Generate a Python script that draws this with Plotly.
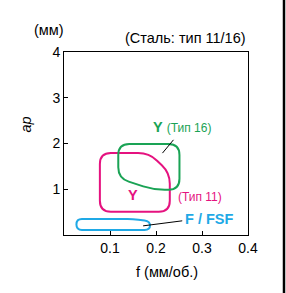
import plotly.graph_objects as go
import math

# ---- data (region outlines, f in mm/rev, ap in mm) ----
y16_f = [0.118, 0.251, 0.251, 0.195, 0.118]
y16_ap = [1.99, 1.99, 0.99, 0.99, 1.24]

y11_f = [0.078, 0.185, 0.230, 0.230, 0.078]
y11_ap = [1.79, 1.79, 1.36, 0.51, 0.51]

fsf_f = [0.027, 0.150, 0.187, 0.187, 0.027]
fsf_ap = [0.35, 0.35, 0.30, 0.11, 0.11]

x_ticks = [0.1, 0.2, 0.3, 0.4]
y_ticks = [1, 2, 3, 4]

GREEN = "#1aa355"
MAGENTA = "#e5127f"
BLUE = "#1fa9e6"
FONT = "Liberation Sans, Arial, sans-serif"

W, H = 286, 293
ML, MR, MT, MB = 64, 38, 52, 58
XR = (0, 0.4)
YR = (0, 4)
sx = (W - ML - MR) / (XR[1] - XR[0])
sy = (H - MT - MB) / (YR[1] - YR[0])


def rounded_path(xs, ys, r_px):
    n = len(xs)
    pts = list(zip(xs, ys))
    segs = []
    for i in range(n):
        p0 = pts[i - 1]
        p1 = pts[i]
        p2 = pts[(i + 1) % n]
        def toward(a, b):
            dx = (b[0] - a[0]) * sx
            dy = (b[1] - a[1]) * sy
            L = math.hypot(dx, dy)
            t = min(r_px / L, 0.5) if L > 0 else 0
            return (a[0] + (b[0] - a[0]) * t, a[1] + (b[1] - a[1]) * t)
        a = toward(p1, p0)
        b = toward(p1, p2)
        segs.append((a, p1, b))
    d = "M %f,%f " % segs[0][2]
    for k in range(1, n + 1):
        a, c, b = segs[k % n]
        d += "L %f,%f Q %f,%f %f,%f " % (a[0], a[1], c[0], c[1], b[0], b[1])
    return d + "Z"


fig = go.Figure()
fig.add_trace(go.Scatter(x=[None], y=[None], showlegend=False))

shapes = [
    dict(type="path", xref="x", yref="y", path=rounded_path(y11_f, y11_ap, 11),
         line=dict(color=MAGENTA, width=2)),
    dict(type="path", xref="x", yref="y", path=rounded_path(y16_f, y16_ap, 11),
         line=dict(color=GREEN, width=2)),
    dict(type="path", xref="x", yref="y", path=rounded_path(fsf_f, fsf_ap, 5.5),
         line=dict(color=BLUE, width=2)),
    # leader lines
    dict(type="line", xref="x", yref="y", x0=0.214, y0=1.79, x1=0.238, y1=2.08,
         line=dict(color="black", width=1)),
    dict(type="line", xref="x", yref="y", x0=0.172, y0=0.2, x1=0.257, y1=0.31,
         line=dict(color="black", width=1)),
    # frame line at right edge of picture
    dict(type="line", xref="paper", yref="paper",
         x0=(284 - ML) / (W - ML - MR), x1=(284 - ML) / (W - ML - MR),
         y0=-MB / (H - MT - MB), y1=1 + MT / (H - MT - MB),
         line=dict(color="black", width=2.5)),
]

ann = [
    dict(x=0.190, y=2.35, xref="x", yref="y", text="<b>Y</b> <span style='font-size:12px'>(Тип 16)</span>",
         showarrow=False, xanchor="left", font=dict(color=GREEN, size=14.5, family=FONT)),
    dict(x=0.149, y=0.87, xref="x", yref="y", text="<b>Y</b>",
         showarrow=False, xanchor="center", font=dict(color=MAGENTA, size=14.5, family=FONT)),
    dict(x=0.244, y=0.82, xref="x", yref="y", text="(Тип 11)",
         showarrow=False, xanchor="left", font=dict(color=MAGENTA, size=12, family=FONT)),
    dict(x=0.258, y=0.35, xref="x", yref="y", text="<b>F / FSF</b>",
         showarrow=False, xanchor="left", font=dict(color=BLUE, size=14.5, family=FONT)),
    dict(x=1.0, y=1.0, xref="paper", yref="paper", yshift=14, text="(Сталь: тип 11/16)",
         showarrow=False, xanchor="right", yanchor="middle", font=dict(color="black", size=14.5, family=FONT)),
    dict(x=0, y=1.0, xref="paper", yref="paper", xshift=-15, yshift=22, text="(мм)",
         showarrow=False, xanchor="center", yanchor="middle", font=dict(color="black", size=14.5, family=FONT)),
    dict(x=0, y=0.5, xref="paper", yref="paper", xshift=-39, yshift=19, text="<i>ap</i>", textangle=-90,
         showarrow=False, xanchor="center", yanchor="middle", font=dict(color="black", size=14.5, family=FONT)),
    dict(x=0.5, y=0, xref="paper", yref="paper", yshift=-37, xshift=11, text="f (мм/об.)",
         showarrow=False, xanchor="center", yanchor="middle", font=dict(color="black", size=14.5, family=FONT)),
]

fig.update_layout(
    width=W, height=H,
    margin=dict(l=ML, r=MR, t=MT, b=MB),
    paper_bgcolor="white", plot_bgcolor="white",
    shapes=shapes, annotations=ann,
    showlegend=False,
    font=dict(family=FONT, size=14, color="black"),
    xaxis=dict(range=list(XR), tickvals=x_ticks, ticktext=[str(v) for v in x_ticks],
               ticks="inside", ticklen=4, tickcolor="black", showgrid=False, zeroline=False,
               showline=True, mirror=True, linecolor="black", linewidth=1, fixedrange=True,
               tickfont=dict(size=14)),
    yaxis=dict(range=list(YR), tickvals=y_ticks, ticktext=[str(v) for v in y_ticks],
               ticks="inside", ticklen=4, tickcolor="black", showgrid=False, zeroline=False,
               showline=True, mirror=True, linecolor="black", linewidth=1, fixedrange=True,
               tickfont=dict(size=14)),
)

fig.write_html("out.html", config={"displayModeBar": False},
               post_script="document.body.style.margin='0px';document.body.style.overflow='hidden';")
